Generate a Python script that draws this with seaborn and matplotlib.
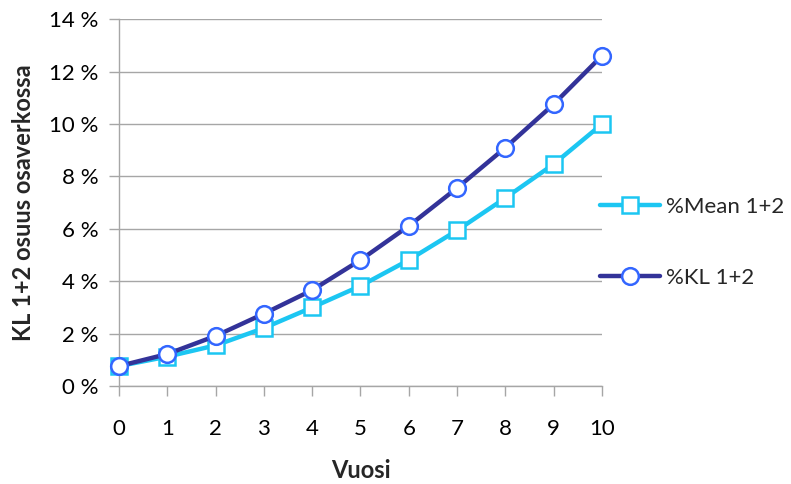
import matplotlib
matplotlib.use("Agg")
import matplotlib.pyplot as plt
import seaborn as sns
import pandas as pd
from matplotlib.ticker import FuncFormatter

years = list(range(0, 11))
mean_12 = [0.76, 1.12, 1.55, 2.21, 3.00, 3.82, 4.81, 5.94, 7.18, 8.47, 10.0]
kl_12 = [0.76, 1.22, 1.91, 2.76, 3.66, 4.81, 6.11, 7.56, 9.10, 10.76, 12.61]
series_names = ["%Mean 1+2", "%KL 1+2"]
y_ticks = [0, 2, 4, 6, 8, 10, 12, 14]

sns.set_theme(style="white")
plt.rcParams['font.family'] = ['Lato', 'DejaVu Sans']

fig = plt.figure(figsize=(7.91, 4.84), dpi=100)
ax = fig.add_axes([0.1504, 0.2025, 0.6106, 0.7575])

df_mean = pd.DataFrame({"x": years, "y": mean_12})
df_kl = pd.DataFrame({"x": years, "y": kl_12})

sns.lineplot(data=df_mean, x="x", y="y", ax=ax, color="#1CC6F2", linewidth=3.2,
             marker="s", markersize=11, markerfacecolor="white",
             markeredgecolor="#1CC6F2", markeredgewidth=1.8, label=series_names[0],
             clip_on=False, zorder=3)
sns.lineplot(data=df_kl, x="x", y="y", ax=ax, color="#333399", linewidth=3.2,
             marker="o", markersize=12, markerfacecolor="white",
             markeredgecolor="#3366FF", markeredgewidth=1.8, label=series_names[1],
             clip_on=False, zorder=4)

ax.set_xlim(0, 10)
ax.set_ylim(0, 14)
ax.set_xticks(years)
ax.set_yticks(y_ticks)
ax.yaxis.set_major_formatter(FuncFormatter(lambda v, p: f"{int(v)} %"))
ax.grid(axis="y", color="#A6A6A6", linewidth=1.0)
ax.grid(axis="x", visible=False)
for s in ["top", "right"]:
    ax.spines[s].set_visible(False)
for s in ["left", "bottom"]:
    ax.spines[s].set_color("#A6A6A6")
    ax.spines[s].set_linewidth(1.0)
ax.tick_params(axis="both", which="major", direction="out", length=7, width=1.0,
               color="#A6A6A6", labelsize=16, labelcolor="black",
               left=True, bottom=True)
ax.tick_params(axis="y", pad=8)
ax.tick_params(axis="x", pad=17)

ax.set_xlabel("Vuosi", fontsize=17, fontweight="bold", labelpad=14)
ax.set_ylabel("KL 1+2 osuus osaverkossa", fontsize=17, fontweight="bold", labelpad=10)

leg = ax.legend(loc="center left", bbox_to_anchor=(0.978, 0.391), frameon=False,
                fontsize=16, handlelength=2.7, handletextpad=0.25, labelspacing=2.3,
                borderaxespad=0)

fig.savefig("out.png", dpi=100)
